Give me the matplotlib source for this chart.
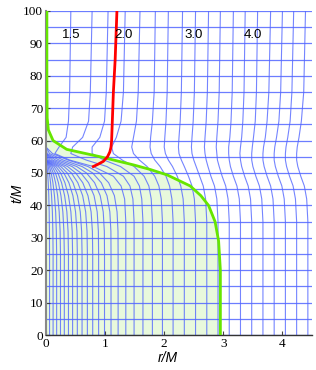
import numpy as np
import matplotlib
matplotlib.use("Agg")
import matplotlib.pyplot as plt

nan = np.nan

# time levels of the horizontal grid lines
t_levels = list(range(0, 101, 5))

# inner grid lines: they bend over and end on the axis around t ~ 54-58
t_inner = [0, 25, 32, 38, 43, 47, 50, 52, 54, 56, 58]
r_inner = [
    [0.06, 0.06, 0.058, 0.054, 0.047, 0.038, 0.028, 0.018, 0.0, nan, nan],
    [0.12, 0.12, 0.116, 0.108, 0.094, 0.077, 0.057, 0.037, 0.0, nan, nan],
    [0.18, 0.18, 0.175, 0.163, 0.143, 0.117, 0.088, 0.057, 0.0, nan, nan],
    [0.245, 0.245, 0.239, 0.223, 0.197, 0.162, 0.122, 0.08, 0.0, nan, nan],
    [0.31, 0.31, 0.303, 0.285, 0.253, 0.21, 0.16, 0.105, 0.0, nan, nan],
    [0.38, 0.38, 0.373, 0.353, 0.315, 0.263, 0.202, 0.135, 0.0, nan, nan],
    [0.45, 0.45, 0.443, 0.421, 0.38, 0.32, 0.248, 0.168, 0.0, nan, nan],
    [0.53, 0.53, 0.523, 0.5, 0.455, 0.387, 0.302, 0.207, 0.02, 0.0, nan],
    [0.61, 0.61, 0.603, 0.58, 0.532, 0.457, 0.36, 0.25, 0.04, 0.0, nan],
    [0.70, 0.70, 0.694, 0.671, 0.62, 0.538, 0.43, 0.305, 0.07, 0.0, nan],
    [0.79, 0.79, 0.785, 0.763, 0.71, 0.622, 0.503, 0.365, 0.11, 0.0, nan],
    [0.89, 0.89, 0.886, 0.866, 0.813, 0.72, 0.59, 0.44, 0.16, 0.0, nan],
    [0.99, 0.99, 0.987, 0.968, 0.917, 0.822, 0.685, 0.52, 0.22, 0.02, 0.0],
    [1.10, 1.10, 1.098, 1.08, 1.032, 0.935, 0.79, 0.61, 0.29, 0.06, 0.0],
    [1.22, 1.22, 1.218, 1.202, 1.157, 1.06, 0.905, 0.71, 0.37, 0.11, 0.0],
]

# outer grid lines: swing inward during the collapse, then run to the top
t_outer = [0, 35, 42, 46, 49, 52, 54, 56, 58, 61, 66, 75, 100]
r_outer = [
    [1.35, 1.35, 1.33, 1.27, 1.14, 0.80, 0.40, 0.15, 0.22, 0.34, 0.38, 0.40, 0.42],
    [1.49, 1.49, 1.47, 1.42, 1.31, 1.03, 0.68, 0.42, 0.45, 0.62, 0.72, 0.75, 0.78],
    [1.64, 1.64, 1.62, 1.58, 1.49, 1.26, 0.98, 0.78, 0.78, 0.91, 0.99, 1.02, 1.05],
    [1.80, 1.80, 1.78, 1.74, 1.66, 1.49, 1.29, 1.14, 1.11, 1.19, 1.27, 1.31, 1.34],
    [1.97, 1.97, 1.95, 1.91, 1.84, 1.71, 1.58, 1.48, 1.45, 1.48, 1.53, 1.56, 1.59],
    [2.15, 2.15, 2.13, 2.09, 2.03, 1.93, 1.84, 1.78, 1.76, 1.77, 1.80, 1.83, 1.85],
    [2.34, 2.34, 2.32, 2.28, 2.22, 2.14, 2.07, 2.02, 2.00, 2.01, 2.03, 2.05, 2.07],
    [2.53, 2.53, 2.51, 2.47, 2.41, 2.34, 2.29, 2.25, 2.24, 2.25, 2.27, 2.29, 2.31],
    [2.72, 2.72, 2.70, 2.66, 2.60, 2.54, 2.50, 2.47, 2.46, 2.47, 2.49, 2.51, 2.53],
    [2.91, 2.91, 2.89, 2.85, 2.79, 2.74, 2.71, 2.69, 2.68, 2.69, 2.71, 2.73, 2.75],
    [3.10, 3.10, 3.08, 3.04, 2.98, 2.93, 2.90, 2.89, 2.88, 2.89, 2.91, 2.93, 2.95],
    [3.29, 3.29, 3.27, 3.23, 3.17, 3.12, 3.10, 3.09, 3.09, 3.11, 3.13, 3.15, 3.17],
    [3.48, 3.48, 3.46, 3.42, 3.36, 3.31, 3.29, 3.28, 3.29, 3.31, 3.33, 3.35, 3.37],
    [3.67, 3.67, 3.65, 3.61, 3.55, 3.50, 3.48, 3.48, 3.49, 3.51, 3.54, 3.56, 3.58],
    [3.86, 3.86, 3.84, 3.80, 3.74, 3.69, 3.67, 3.67, 3.68, 3.71, 3.74, 3.77, 3.80],
    [4.05, 4.05, 4.03, 3.99, 3.93, 3.88, 3.86, 3.86, 3.87, 3.90, 3.94, 3.97, 4.00],
    [4.24, 4.24, 4.22, 4.18, 4.12, 4.07, 4.05, 4.05, 4.06, 4.09, 4.13, 4.16, 4.19],
    [4.43, 4.43, 4.41, 4.37, 4.31, 4.26, 4.24, 4.24, 4.25, 4.28, 4.32, 4.36, 4.39],
]

# surface of the star (green)
surf_t = [0, 20, 29, 35, 40, 43, 46, 49.4, 51.1, 52.5, 55, 57.3, 60, 63.3, 67, 80, 100]
surf_r = [2.95, 2.95, 2.92, 2.86, 2.75, 2.62, 2.44, 2.05, 1.76, 1.48, 0.92, 0.35, 0.12, 0.04, 0.02, 0.015, 0.015]

# apparent horizon (red)
ah_t = [52, 52.7, 53.6, 55, 56.5, 58, 60, 65, 75, 85, 100]
ah_r = [0.80, 0.88, 0.97, 1.04, 1.08, 1.10, 1.11, 1.12, 1.14, 1.17, 1.20]

# areal radius labels along the top
lab_text = ["1.5", "2.0", "3.0", "4.0"]
lab_r = [0.42, 1.31, 2.49, 3.50]
lab_t = 92.6

blue = (0.32, 0.40, 1.0)

fig = plt.figure(figsize=(3.16, 3.70), dpi=100)
ax = fig.add_axes([46 / 316, 35 / 370, 266 / 316, 324 / 370])

ax.fill_betweenx(surf_t, 0, surf_r, color="#e8f9dc", lw=0, zorder=0)

for t in t_levels:
    ax.axhline(t, color=blue, lw=0.9, alpha=0.85, zorder=1)
for row in r_inner:
    ax.plot(row, t_inner, color=blue, lw=0.8, alpha=0.8, zorder=1)
for row in r_outer:
    ax.plot(row, t_outer, color=blue, lw=0.8, alpha=0.8, zorder=1)

ax.plot(surf_r, surf_t, color="#66e600", lw=2, zorder=3)
ax.plot(ah_r, ah_t, color="#ff0000", lw=2, zorder=4)

for s, r in zip(lab_text, lab_r):
    ax.text(r, lab_t, s, ha="center", va="center", fontsize=9.5,
            family="Liberation Sans", zorder=5)

ax.set_xlim(0, 4.5)
ax.set_ylim(0, 100)
ax.set_xticks([0, 1, 2, 3, 4])
ax.set_yticks(range(0, 101, 10))
for lab in ax.get_xticklabels() + ax.get_yticklabels():
    lab.set_family("Liberation Serif")
    lab.set_fontsize(9.5)
ax.tick_params(direction="in", length=3, width=0.8, pad=2, color="#444444")

ax.spines["top"].set_visible(False)
ax.spines["right"].set_visible(False)
ax.spines["left"].set_color("#888888")
ax.spines["left"].set_linewidth(1.5)
ax.spines["bottom"].set_color("#333333")
ax.spines["bottom"].set_linewidth(1.0)

ax.set_xlabel("r/M", fontsize=10, style="italic", family="Liberation Sans")
ax.set_ylabel("t/M", fontsize=10, style="italic", family="Liberation Sans")
ax.xaxis.set_label_coords((168 - 46) / 266, -16 / 324)
ax.yaxis.set_label_coords(-22 / 266, (335 - 193) / 324)

fig.savefig("out.png", dpi=100)
